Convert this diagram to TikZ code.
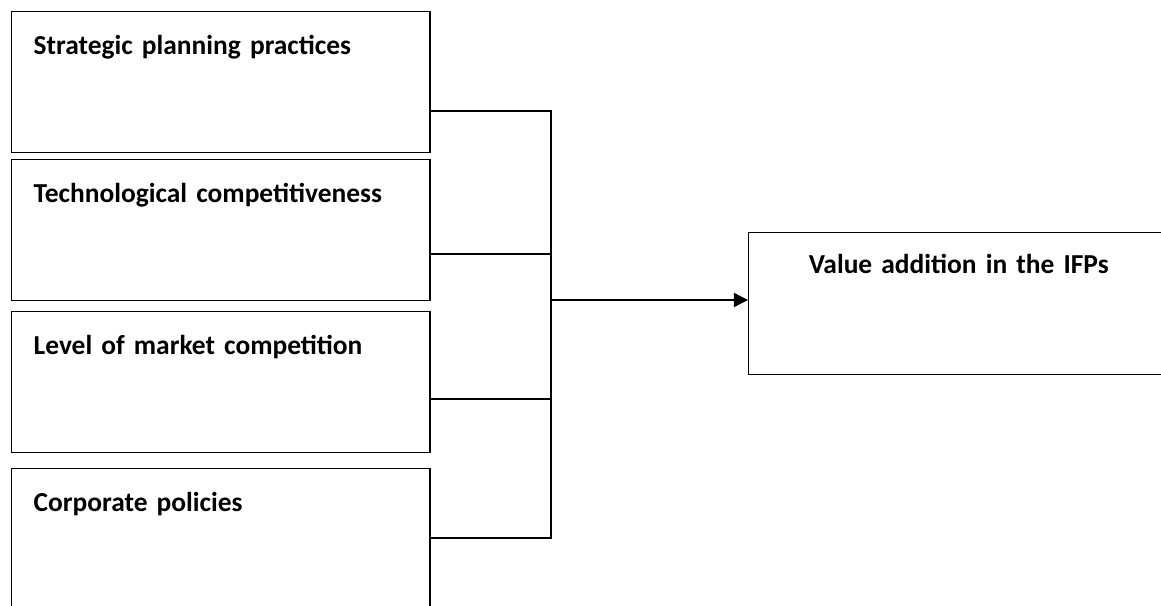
\documentclass[tikz,border=0pt]{standalone}
\usepackage{fontspec}
\setmainfont{Carlito}
\usetikzlibrary{arrows.meta}
\tikzstyle{factor}=[rectangle,draw,line width=1pt,anchor=north west,minimum width=10.45cm,inner xsep=15.6pt,inner ysep=0pt,text width=266pt,align=left,text height=30.2pt,text depth=70.1pt,font=\bfseries\fontsize{19.5}{21}\selectfont]
\tikzstyle{outcome}=[rectangle,draw,line width=1pt,anchor=north west,minimum width=11cm,inner xsep=42.7pt,inner ysep=0pt,text width=260pt,align=left,text height=28.8pt,text depth=72.2pt,font=\bfseries\fontsize{19.5}{21}\selectfont]
\tikzstyle{link}=[line width=1pt]

\begin{document}
\begin{tikzpicture}[x=0.025cm,y=-0.025cm]
  \useasboundingbox (0,0) rectangle (1161,605);
  \node[factor] (spp) at (11,11) {Strategic planning practices};
  \node[factor] (tc) at (11,159) {Technological competitiveness};
  \node[factor] (lmc) at (11,311) {Level of market competition};
  \node[factor] (cp) at (11,468) {Corporate policies};
  \node[outcome] (va) at (748,232) {Value addition in the IFPs};
  \coordinate (b1) at (551,111);
  \coordinate (b2) at (551,254);
  \coordinate (b3) at (551,399);
  \coordinate (b4) at (551,538);
  \coordinate (bm) at (551,300);
  \draw[link] (spp.east |- b1) -- (b1) -- (b4) -- (cp.east |- b4);
  \draw[link] (tc.east |- b2) -- (b2);
  \draw[link] (lmc.east |- b3) -- (b3);
  \draw[link,-{Triangle[length=10pt,width=10pt]}] (bm) -- (va.west |- bm);
\end{tikzpicture}
\end{document}
